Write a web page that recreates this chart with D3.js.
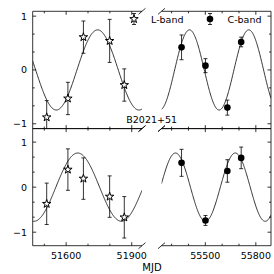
<!DOCTYPE html>
<html><head><meta charset="utf-8">
<script src="https://cdn.jsdelivr.net/npm/d3@7"></script>
<style>body{margin:0;background:#fff} svg{display:block;background:#fff}</style>
</head><body><svg id="c" width="274" height="274"></svg>
<script>
// ---- data ----
const lMJD    = [51511, 51608, 51679, 51799, 51866];   // L-band epochs
const lTop    = [-0.88, -0.53, 0.61, 0.54, -0.28];
const lTopErr = [0.31, 0.30, 0.30, 0.40, 0.30];
const lBot    = [-0.37, 0.39, 0.19, -0.21, -0.67];
const lBotErr = [0.46, 0.46, 0.46, 0.46, 0.46];
const cMJD    = [55359, 55501, 55631, 55713];          // C-band epochs
const cTop    = [0.42, 0.08, -0.70, 0.52];
const cTopErr = [0.23, 0.13, 0.14, 0.09];
const cBot    = [0.54, -0.74, 0.36, 0.65];
const cBotErr = [0.30, 0.11, 0.25, 0.24];
// sinusoidal model: [amplitude, period (d), MJD of maximum]
const fitTopL = [0.745, 378, 51744];
const fitTopR = [0.745, 352, 55406];
const fitBotL = [0.758, 400, 51653];
const fitBotR = [0.758, 355, 55323];
const xTicksL = [51600, 51900];
const xTicksR = [55500, 55800];
const yTicks  = [-1, 0, 1];
const legendLabels = ["L-band", "C-band"];
const sourceName = "B2021+51";
const xLabel = "MJD";

const svg = d3.select("#c");
const FONT = "DejaVu Sans, sans-serif";

const xL = d3.scaleLinear().domain([51447, 51947]).range([32.7, 142]);
const xR = d3.scaleLinear().domain([55240, 55890]).range([161.5, 271]);
const yT = d3.scaleLinear().domain([-1.09, 1.09]).range([128.6, 11.3]);
const yB = d3.scaleLinear().domain([-1.3, 1.3]).range([245.7, 128.6]);

const panels = [
  {id:"tl", x:xL, y:yT, side:"L", row:"T", mjd:lMJD, v:lTop, e:lTopErr, fit:fitTopL, sym:"star"},
  {id:"tr", x:xR, y:yT, side:"R", row:"T", mjd:cMJD, v:cTop, e:cTopErr, fit:fitTopR, sym:"circle"},
  {id:"bl", x:xL, y:yB, side:"L", row:"B", mjd:lMJD, v:lBot, e:lBotErr, fit:fitBotL, sym:"star"},
  {id:"br", x:xR, y:yB, side:"R", row:"B", mjd:cMJD, v:cBot, e:cBotErr, fit:fitBotR, sym:"circle"},
];

const defs = svg.append("defs");
const starPath = d3.symbol(d3.symbolStar, 22)();

function minorTicks(dom, majorStep, div) {
  const st = majorStep / div, out = [];
  const a = Math.ceil(dom[0] / st), b = Math.floor(dom[1] / st);
  for (let i = a; i <= b; i++) { const t = +(i * st).toFixed(6); if (Math.abs(t / majorStep - Math.round(t / majorStep)) > 1e-6) out.push(t); }
  return out;
}

panels.forEach(p => {
  const [x0, x1] = p.x.range(), [y1, y0] = p.y.range();
  defs.append("clipPath").attr("id", "clip-" + p.id)
    .append("rect").attr("x", x0).attr("y", y0).attr("width", x1 - x0).attr("height", y1 - y0);
  const g = svg.append("g");
  const gc = g.append("g").attr("clip-path", `url(#clip-${p.id})`);

  // model curve
  const [A, P, tm] = p.fit;
  const dom = p.x.domain();
  const ts = d3.range(dom[0], dom[1] + 1, 2);
  gc.append("path")
    .attr("d", d3.line().x(t => p.x(t)).y(t => p.y(A * Math.cos(2 * Math.PI * (t - tm) / P)))(ts))
    .attr("fill", "none").attr("stroke", "#000").attr("stroke-width", 0.8);

  // error bars
  p.mjd.forEach((t, i) => {
    const cx = p.x(t), ya = p.y(p.v[i] + p.e[i]), yb = p.y(p.v[i] - p.e[i]);
    gc.append("line").attr("x1", cx).attr("x2", cx).attr("y1", ya).attr("y2", yb).attr("stroke", "#000").attr("stroke-width", 0.8);
    [ya, yb].forEach(yy => gc.append("line").attr("x1", cx - 2).attr("x2", cx + 2).attr("y1", yy).attr("y2", yy).attr("stroke", "#000").attr("stroke-width", 0.8));
  });
  // markers
  p.mjd.forEach((t, i) => {
    const cx = p.x(t), cy = p.y(p.v[i]);
    if (p.sym === "star") g.append("path").attr("d", starPath).attr("transform", `translate(${cx},${cy})`)
        .attr("fill", "#fff").attr("stroke", "#000").attr("stroke-width", 1);
    else g.append("circle").attr("cx", cx).attr("cy", cy).attr("r", 3.3).attr("fill", "#000");
  });

  // spines
  const sp = {stroke:"#000", "stroke-width":0.8};
  const ln = (a, b, c, d) => { const l = g.append("line").attr("x1", a).attr("y1", b).attr("x2", c).attr("y2", d); Object.entries(sp).forEach(([k, v]) => l.attr(k, v)); return l; };
  ln(x0, y0, x1, y0); ln(x0, y1, x1, y1);
  if (p.side === "L") ln(x0, y0, x0, y1); else ln(x1, y0, x1, y1);

  // x ticks (inward, top and bottom)
  const xt = p.side === "L" ? xTicksL : xTicksR;
  const xm = minorTicks(dom, 300, 3);
  xt.forEach(t => { const xx = p.x(t); ln(xx, y1, xx, y1 - 3.5); ln(xx, y0, xx, y0 + 3.5); });
  xm.forEach(t => { const xx = p.x(t); ln(xx, y1, xx, y1 - 2); ln(xx, y0, xx, y0 + 2); });
  // y ticks
  const ym = minorTicks(p.y.domain(), 1, 3);
  const xs = p.side === "L" ? x0 : x1, dir = p.side === "L" ? 1 : -1;
  yTicks.forEach(t => { const yy = p.y(t); ln(xs, yy, xs + dir * 3.5, yy); });
  ym.forEach(t => { const yy = p.y(t); ln(xs, yy, xs + dir * 2, yy); });

  // tick labels
  if (p.row === "B") xt.forEach(t => g.append("text").attr("x", p.x(t)).attr("y", 258.5).attr("text-anchor", "middle")
      .attr("font-family", FONT).attr("font-size", 9.5).text(d3.format("d")(t)));
  if (p.side === "L") yTicks.forEach(t => g.append("text").attr("x", 27).attr("y", p.y(t)).attr("dy", "0.36em").attr("text-anchor", "end")
      .attr("font-family", FONT).attr("font-size", 9.5).text(t < 0 ? "\u2212" + Math.abs(t) : String(t)));

  // break marks
  const bx = p.side === "L" ? x1 : x0;
  [y0, y1].forEach(yy => ln(bx - 3.5, yy + 3, bx + 3.5, yy - 3));
});

// legend
const lg = svg.append("g");
[[134, "star"], [210, "circle"]].forEach(([lx, s], i) => {
  lg.append("line").attr("x1", lx).attr("x2", lx).attr("y1", 13.5).attr("y2", 24.5).attr("stroke", "#000").attr("stroke-width", 0.8);
  [13.5, 24.5].forEach(yy => lg.append("line").attr("x1", lx - 2).attr("x2", lx + 2).attr("y1", yy).attr("y2", yy).attr("stroke", "#000").attr("stroke-width", 0.8));
  if (s === "star") lg.append("path").attr("d", starPath).attr("transform", `translate(${lx},19)`).attr("fill", "#fff").attr("stroke", "#000").attr("stroke-width", 1);
  else lg.append("circle").attr("cx", lx).attr("cy", 19).attr("r", 3.3).attr("fill", "#000");
  lg.append("text").attr("x", i === 0 ? 151 : 227.5).attr("y", 22.8).attr("font-family", FONT).attr("font-size", 9.5).text(legendLabels[i]);
});
svg.append("text").attr("x", 151.7).attr("y", 122.5).attr("text-anchor", "middle").attr("font-family", FONT).attr("font-size", 9.5).text(sourceName);
svg.append("text").attr("x", 152).attr("y", 270.5).attr("text-anchor", "middle").attr("font-family", FONT).attr("font-size", 10).text(xLabel);
</script></body></html>
